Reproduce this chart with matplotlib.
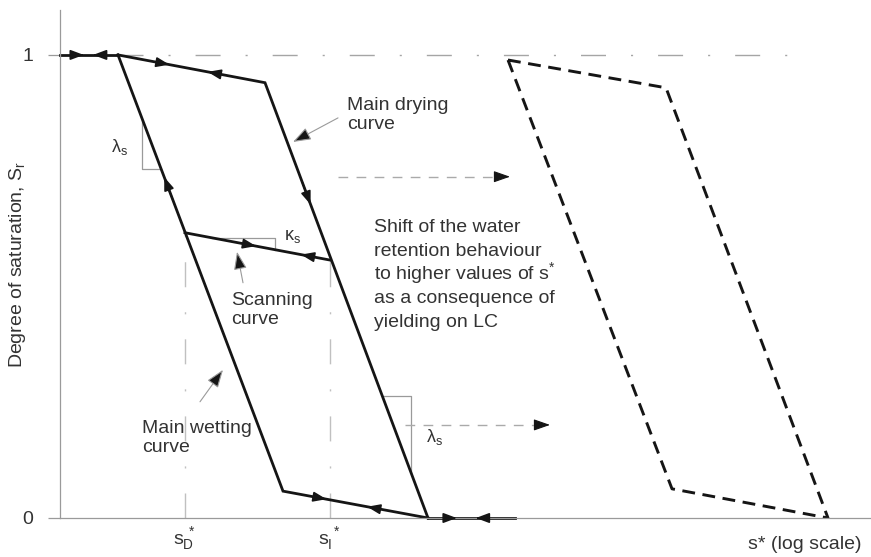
import numpy as np
import matplotlib
matplotlib.use("Agg")
import matplotlib.pyplot as plt

plt.rcParams["font.family"] = ["Liberation Sans", "DejaVu Sans"]
plt.rcParams["mathtext.fontset"] = "custom"
plt.rcParams["mathtext.rm"] = "Liberation Sans"
plt.rcParams["mathtext.it"] = "Liberation Sans:italic"

# x = log s* (arbitrary units), y = degree of saturation Sr
flat_top_x = [0.0, 0.58]
flat_top_y = [1.0, 1.0]
drying_x = [0.58, 2.05, 3.68]
drying_y = [1.0, 0.94, 0.0]
wetting_x = [0.58, 2.23, 3.68]
wetting_y = [1.0, 0.058, 0.0]
flat_bot_x = [3.68, 4.55]
flat_bot_y = [0.0, 0.0]
scan_x = [1.25, 2.70]
scan_y = [0.616, 0.557]
shifted_x = [4.48, 6.06, 7.68, 6.12, 4.48]
shifted_y = [0.989, 0.929, 0.0, 0.063, 0.989]

s_D = scan_x[0]
s_I = scan_x[1]

# slope triangles
lam1_x = [0.82, 0.82, 1.01]
lam1_y = [0.860, 0.754, 0.754]
kap_x = [1.52, 2.15, 2.15]
kap_y = [0.605, 0.605, 0.579]
lam2_x = [3.22, 3.51, 3.51]
lam2_y = [0.263, 0.263, 0.097]

# direction arrows along the curves: (xs, ys, segment index, fraction, forward?)
flow_arrows = [
    (flat_top_x, flat_top_y, 0, 0.41, True),
    (flat_top_x, flat_top_y, 0, 0.57, False),
    (drying_x, drying_y, 0, 0.35, True),
    (drying_x, drying_y, 0, 0.61, False),
    (drying_x, drying_y, 1, 0.28, True),
    (wetting_x, wetting_y, 0, 0.28, False),
    (scan_x, scan_y, 0, 0.49, True),
    (scan_x, scan_y, 0, 0.80, False),
    (wetting_x, wetting_y, 1, 0.30, True),
    (wetting_x, wetting_y, 1, 0.58, False),
    (flat_bot_x, flat_bot_y, 0, 0.33, True),
    (flat_bot_x, flat_bot_y, 0, 0.55, False),
]

shift_arrow_y = [0.737, 0.201]
shift_arrow_x0 = [2.78, 3.45]
shift_arrow_x1 = [4.50, 4.90]

shift_lines = ["Shift of the water", "retention behaviour",
               r"to higher values of s$^\mathregular{*}$",
               "as a consequence of", "yielding on LC"]

black = "#151515"
grey = "#9a9a9a"
txt = "#333333"

fig = plt.figure(figsize=(8.71, 5.57), dpi=100)
ax = fig.add_axes([60 / 871, 39 / 557, 811 / 871, 508 / 557])
ax.set_xlim(0, 8.11)
ax.set_ylim(0, 1.097)
for s in ["top", "right"]:
    ax.spines[s].set_visible(False)
for s in ["left", "bottom"]:
    ax.spines[s].set_color(grey)
    ax.spines[s].set_linewidth(0.9)

ax.set_yticks([0, 1])
ax.set_yticklabels(["0", "1"], fontsize=14, color=txt)
ax.tick_params(axis="y", length=9, width=0.9, color=grey, pad=10)
ax.set_xticks([s_D, s_I])
ax.set_xticklabels([r"$\mathregular{s_D^{\ *}}$", r"$\mathregular{s_I^{\ *}}$"],
                   fontsize=14, color=txt)
ax.tick_params(axis="x", length=0, pad=5)
fig.text(18 / 871, (557 - 264) / 557, r"Degree of saturation, S$_\mathregular{r}$",
         fontsize=14, color=txt, rotation=90, ha="center", va="center")
ax.text(7.45, -0.058, "s* (log scale)", fontsize=14, color=txt,
        ha="center", va="center", clip_on=False)

# reference lines (dash-dot, grey)
dd = (0, (18, 18, 1.5, 18))
ax.plot([flat_top_x[1], 7.40], [1.0, 1.0], color="#a5a5a5", lw=1, ls=dd)
ax.plot([s_D, s_D], [0, scan_y[0]], color="#c0c0c0", lw=1, ls=dd)
ax.plot([s_I, s_I], [0, scan_y[1]], color="#c0c0c0", lw=1, ls=dd)

# slope triangles
for tx, ty in [(lam1_x, lam1_y), (kap_x, kap_y), (lam2_x, lam2_y)]:
    ax.plot(tx, ty, color=grey, lw=0.9)

# main curves
lw = 2.0
for xs, ys in [(flat_top_x, flat_top_y), (drying_x, drying_y), (wetting_x, wetting_y),
               (flat_bot_x, flat_bot_y), (scan_x, scan_y)]:
    ax.plot(xs, ys, color=black, lw=lw, solid_joinstyle="miter", clip_on=False)

ax.plot(shifted_x, shifted_y, color=black, lw=2.1, ls=(0, (4.4, 2.6)),
        solid_joinstyle="miter")

head = "-|>,head_length=0.8,head_width=0.3"
for xs, ys, i, f, fwd in flow_arrows:
    x0, y0, x1, y1 = xs[i], ys[i], xs[i + 1], ys[i + 1]
    tip = (x0 + f * (x1 - x0), y0 + f * (y1 - y0))
    d = 0.05 if fwd else -0.05
    tail = (tip[0] - d * (x1 - x0), tip[1] - d * (y1 - y0))
    ax.annotate("", xy=tip, xytext=tail, annotation_clip=False,
                arrowprops=dict(arrowstyle=head, color=black, lw=1.2,
                                shrinkA=0, shrinkB=0))

# shift arrows
for y, xa, xb in zip(shift_arrow_y, shift_arrow_x0, shift_arrow_x1):
    ax.plot([xa, xb - 0.1], [y, y], color="#aaaaaa", lw=1.0, ls=(0, (7, 6)))
    ax.annotate("", xy=(xb, y), xytext=(xb - 0.15, y),
                arrowprops=dict(arrowstyle="-|>,head_length=1.0,head_width=0.35",
                                color=black, lw=0.8, shrinkA=0, shrinkB=0))

# labels with pointers
ptr = "-|>,head_length=1.1,head_width=0.4"
labels = [
    ("Main drying\ncurve", 2.87, 0.870, (2.78, 0.864), (2.33, 0.812)),
    ("Scanning\ncurve", 1.71, 0.449, (1.83, 0.508), (1.77, 0.575)),
    ("Main wetting\ncurve", 0.82, 0.173, (1.40, 0.251), (1.63, 0.320)),
]
for s, x, y, p0, p1 in labels:
    ax.text(x, y, s, fontsize=14, color=txt, ha="left", va="center",
            linespacing=1.2)
    ax.annotate("", xy=p1, xytext=p0,
                arrowprops=dict(arrowstyle=ptr, ec=grey, fc=black, lw=0.8,
                                shrinkA=0, shrinkB=0))

# shift note, one line at a time so the spacing stays even
for k, line in enumerate(shift_lines):
    ax.text(3.14, 0.618 - k * 0.0512, line, fontsize=14, color=txt,
            ha="left", va="baseline")

ax.text(0.60, 0.801, r"$\mathregular{\lambda_s}$", fontsize=13, color=txt,
        ha="center", va="center")
ax.text(2.33, 0.607, r"$\mathregular{\kappa_s}$", fontsize=13, color=txt,
        ha="center", va="center")
ax.text(3.75, 0.175, r"$\mathregular{\lambda_s}$", fontsize=13, color=txt,
        ha="center", va="center")

fig.savefig("out.png", dpi=100)
